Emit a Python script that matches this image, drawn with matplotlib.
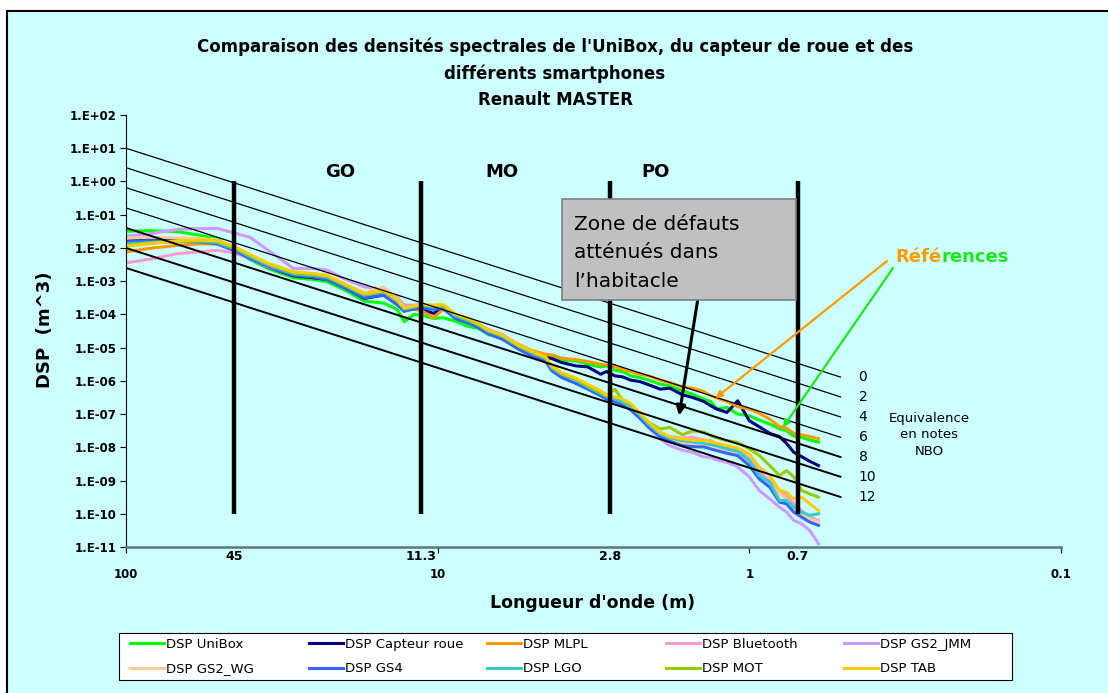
import matplotlib
matplotlib.use("Agg")
import matplotlib.pyplot as plt
import matplotlib.patches as patches
from matplotlib.ticker import FixedLocator, FuncFormatter, NullLocator
from matplotlib.transforms import blended_transform_factory
import numpy as np

W, H, DPI = 1108, 693, 100

# wavelength (m) shared by every series
lam = [100, 85, 68, 58, 51, 45, 40, 35, 29, 25, 22.6, 20, 17.2, 14.9, 13.5,
       12.8, 11.9, 11.3, 10.3, 9.6, 8.8, 8.0, 7.4, 6.9, 6.2, 5.5, 5.0, 4.5, 4.3, 4.0,
       3.6, 3.3, 3.0, 2.87, 2.7, 2.55, 2.4, 2.25, 2.1, 1.93, 1.8, 1.64, 1.52, 1.40, 1.33,
       1.27, 1.18, 1.09, 1.0, 0.93, 0.86, 0.80, 0.76, 0.72, 0.68, 0.64, 0.60]

# log10 of the DSP
log_unibox = [-1.50, -1.48, -1.51, -1.62, -1.72, -2.05, -2.35, -2.62, -2.90, -2.95,
              -3.02, -3.25, -3.60, -3.66, -3.85, -4.22, -4.00, -4.02, -4.12, -4.10,
              -4.20, -4.36, -4.42, -4.60, -4.72, -4.98, -5.10, -5.24, -5.30, -5.38,
              -5.40, -5.50, -5.58, -5.55, -5.68, -5.72, -5.85, -5.90, -5.98, -6.10,
              -6.15, -6.30, -6.40, -6.55, -6.62, -6.85, -6.80, -7.00, -7.05, -7.18,
              -7.30, -7.44, -7.50, -7.66, -7.70, -7.78, -7.84]
log_capteur = [-1.76, -1.72, -1.75, -1.80, -1.86, -2.06, -2.30, -2.58, -2.84, -2.90,
               -2.95, -3.18, -3.52, -3.42, -3.70, -3.90, -3.78, -3.85, -3.97, -3.78,
               -4.10, -4.25, -4.36, -4.55, -4.70, -4.98, -5.15, -5.30, -5.33, -5.45,
               -5.55, -5.58, -5.80, -5.72, -5.85, -5.88, -5.98, -6.02, -6.12, -6.25,
               -6.22, -6.42, -6.50, -6.62, -6.75, -6.85, -6.95, -6.60, -7.20, -7.38,
               -7.58, -7.68, -7.88, -8.15, -8.28, -8.42, -8.55]
log_mlpl = [-2.12, -2.02, -1.92, -1.88, -1.88, -2.03, -2.25, -2.52, -2.80, -2.86,
            -2.92, -3.15, -3.47, -3.40, -3.66, -3.85, -3.85, -3.88, -4.10, -3.85,
            -4.08, -4.20, -4.32, -4.50, -4.64, -4.90, -5.08, -5.20, -5.22, -5.32,
            -5.36, -5.42, -5.50, -5.52, -5.58, -5.65, -5.72, -5.80, -5.85, -5.98,
            -6.05, -6.18, -6.22, -6.32, -6.45, -6.52, -6.62, -6.78, -6.85, -6.98,
            -7.15, -7.38, -7.42, -7.58, -7.62, -7.68, -7.74]
log_bluetooth = [-2.45, -2.35, -2.17, -2.12, -2.07, -2.15, -2.32, -2.58, -2.80, -2.86,
                 -2.92, -3.15, -3.45, -3.35, -3.62, -3.85, -3.80, -3.76, -3.80, -3.80,
                 -4.05, -4.18, -4.34, -4.50, -4.68, -4.98, -5.15, -5.35, -5.62, -5.80,
                 -6.00, -6.20, -6.38, -6.50, -6.55, -6.65, -6.78, -7.00, -7.28, -7.55,
                 -7.68, -7.72, -7.70, -7.78, -7.80, -7.90, -7.98, -8.05, -8.35, -8.75,
                 -9.00, -9.30, -9.45, -9.70, -9.90, -10.10, -10.20]
log_gs2_jmm = [-1.65, -1.58, -1.44, -1.42, -1.41, -1.55, -1.68, -2.07, -2.62, -2.62,
               -2.67, -2.92, -3.17, -3.25, -3.48, -3.72, -3.72, -3.72, -3.76, -3.74,
               -4.00, -4.15, -4.28, -4.45, -4.60, -4.92, -5.12, -5.35, -5.65, -5.85,
               -6.05, -6.22, -6.42, -6.55, -6.60, -6.70, -6.82, -7.10, -7.42, -7.75,
               -7.95, -8.09, -8.15, -8.29, -8.30, -8.38, -8.45, -8.59, -8.89, -9.30,
               -9.55, -9.80, -9.95, -10.20, -10.30, -10.50, -10.90]
log_gs2_wg = [-1.71, -1.68, -1.70, -1.72, -1.76, -1.98, -2.22, -2.48, -2.74, -2.80,
              -2.86, -3.08, -3.35, -3.17, -3.52, -3.80, -3.78, -3.74, -3.76, -3.78,
              -4.05, -4.18, -4.33, -4.52, -4.70, -5.00, -5.18, -5.38, -5.68, -5.88,
              -6.05, -6.22, -6.45, -6.55, -6.62, -6.68, -6.85, -7.10, -7.38, -7.65,
              -7.78, -7.88, -7.90, -7.92, -7.98, -8.02, -8.10, -8.18, -8.48, -8.90,
              -9.10, -9.40, -9.55, -9.85, -10.00, -10.15, -10.25]
log_gs4 = [-1.82, -1.78, -1.80, -1.82, -1.88, -2.08, -2.32, -2.56, -2.82, -2.88,
           -2.95, -3.20, -3.50, -3.42, -3.70, -3.90, -3.84, -3.80, -3.85, -3.82,
           -4.12, -4.25, -4.40, -4.58, -4.75, -5.05, -5.25, -5.42, -5.70, -5.90,
           -6.08, -6.25, -6.45, -6.55, -6.62, -6.72, -6.88, -7.12, -7.40, -7.68,
           -7.82, -7.95, -7.98, -7.99, -8.05, -8.10, -8.18, -8.25, -8.55, -8.95,
           -9.20, -9.65, -9.70, -9.95, -10.10, -10.25, -10.35]
log_lgo = [-1.88, -1.84, -1.80, -1.80, -1.84, -2.02, -2.26, -2.52, -2.78, -2.83,
           -2.88, -3.12, -3.42, -3.32, -3.60, -3.84, -3.78, -3.72, -3.78, -3.76,
           -4.04, -4.18, -4.32, -4.50, -4.66, -4.96, -5.14, -5.32, -5.62, -5.80,
           -5.98, -6.18, -6.38, -6.48, -6.55, -6.64, -6.78, -7.02, -7.32, -7.60,
           -7.72, -7.80, -7.84, -7.88, -7.92, -7.96, -8.05, -8.12, -8.40, -8.85,
           -9.05, -9.60, -9.60, -9.80, -9.95, -10.05, -10.00]
log_mot = [-1.92, -1.86, -1.80, -1.78, -1.80, -1.98, -2.22, -2.48, -2.75, -2.80,
           -2.86, -3.10, -3.40, -3.30, -3.58, -3.82, -3.76, -3.72, -3.75, -3.72,
           -4.00, -4.15, -4.30, -4.48, -4.64, -4.95, -5.12, -5.30, -5.58, -5.78,
           -5.95, -6.15, -6.35, -6.45, -6.25, -6.58, -6.70, -6.98, -7.25, -7.45,
           -7.40, -7.62, -7.51, -7.54, -7.65, -7.72, -7.80, -7.85, -8.05, -8.24,
           -8.55, -8.85, -8.70, -8.89, -9.30, -9.40, -9.50]
log_tab = [-1.95, -1.88, -1.78, -1.76, -1.78, -1.95, -2.20, -2.46, -2.72, -2.77,
           -2.83, -3.07, -3.37, -3.28, -3.55, -3.80, -3.74, -3.70, -3.72, -3.70,
           -3.98, -4.12, -4.28, -4.46, -4.62, -4.92, -5.10, -5.28, -5.55, -5.75,
           -5.92, -6.10, -6.30, -6.42, -6.48, -6.55, -6.68, -6.95, -7.25, -7.55,
           -7.68, -7.75, -7.78, -7.80, -7.82, -7.88, -7.95, -8.02, -8.20, -8.59,
           -8.85, -9.30, -9.35, -9.55, -9.50, -9.70, -9.90]

series_names = ["DSP UniBox", "DSP Capteur roue", "DSP MLPL", "DSP Bluetooth", "DSP GS2_JMM",
                "DSP GS2_WG", "DSP GS4", "DSP LGO", "DSP MOT", "DSP TAB"]
series_logs = [log_unibox, log_capteur, log_mlpl, log_bluetooth, log_gs2_jmm,
               log_gs2_wg, log_gs4, log_lgo, log_mot, log_tab]
series_colors = ["#00FF00", "#000080", "#FF9900", "#FF99CC", "#CC99FF",
                 "#FFCC99", "#3366FF", "#33CCCC", "#99CC00", "#FFCC00"]

# NBO reference lines (note, DSP at 100 m, DSP at the end)
nbo_notes = ["0", "2", "4", "6", "8", "10", "12"]
nbo_lam = [100, 0.51]
nbo_start = [1.0e1, 2.6e0, 6.5e-1, 1.6e-1, 4.0e-2, 1.0e-2, 2.5e-3]
nbo_end = [1.3e-6, 3.3e-7, 8.2e-8, 2.0e-8, 5.1e-9, 1.3e-9, 3.2e-10]

band_limits = [45, 11.3, 2.8, 0.7]
band_labels = ["45", "11.3", "2.8", "0.7"]
band_names = ["GO", "MO", "PO"]
band_name_lam = [20.5, 6.2, 2.0]

x_ticks = [100, 10, 1, 0.1]
x_ticklabels = ["100", "10", "1", "0.1"]

title_lines = ["Comparaison des densités spectrales de l'UniBox, du capteur de roue et des",
               "différents smartphones", "Renault MASTER"]


def fpx(x, y):
    # pixel position measured from the top-left corner -> figure fraction
    return x / W, 1 - y / H


fig = plt.figure(figsize=(W / DPI, H / DPI), dpi=DPI, facecolor="white")
fig.add_artist(patches.Rectangle((7 / W, -0.05), 1.1, 1.05 - 11 / H, transform=fig.transFigure,
                                 facecolor="#CCFFFF", edgecolor="black", lw=1.5, zorder=-1))

ax = fig.add_axes([126 / W, 1 - 547 / H, 935 / W, 432 / H])
ax.set_facecolor("none")

handles = []
for name, logs, color in zip(series_names, series_logs, series_colors):
    h, = ax.plot(lam, 10.0 ** np.array(logs), color=color, lw=2.2, label=name,
                 solid_joinstyle="round", zorder=2)
    handles.append(h)

for i, (s, e) in enumerate(zip(nbo_start, nbo_end)):
    ax.plot(nbo_lam, [s, e], color="black", lw=0.9 if i < 4 else 1.4, zorder=3)
    ax.annotate(nbo_notes[i], xy=(nbo_lam[1], e), xytext=(13, 0), textcoords="offset points",
                va="center", ha="left", fontsize=10, annotation_clip=False)

ax.vlines(band_limits, 1e-10, 1e0, colors="black", lw=3.2, zorder=4)

ax.set_xscale("log")
ax.set_yscale("log")
ax.set_xlim(100, 0.1)
ax.set_ylim(1e-11, 1e2)

ax.yaxis.set_major_locator(FixedLocator(10.0 ** np.arange(-11, 3)))
ax.yaxis.set_major_formatter(FuncFormatter(lambda v, p: "1.E%+03d" % round(np.log10(v))))
ax.yaxis.set_minor_locator(NullLocator())
ax.set_xticks(x_ticks)
ax.set_xticklabels(x_ticklabels)
ax.xaxis.set_minor_locator(NullLocator())
ax.tick_params(axis="y", length=4, width=0.8, pad=3, labelsize=8.5)
ax.tick_params(axis="x", length=4, width=0.8, pad=11, labelsize=8.5, color="black")
plt.setp(ax.get_yticklabels(), fontweight="bold")
plt.setp(ax.get_xticklabels(), fontweight="bold")

for side in ["top", "right"]:
    ax.spines[side].set_visible(False)
ax.spines["left"].set_linewidth(0.8)
ax.spines["bottom"].set_color("#5f7676")
ax.spines["bottom"].set_linewidth(1.8)

trans = blended_transform_factory(ax.transData, ax.transAxes)
for b, lbl in zip(band_limits, band_labels):
    ax.text(b, -0.023, lbl, transform=trans, ha="center", va="center", fontsize=9, fontweight="bold")
for x, name in zip(band_name_lam, band_names):
    ax.text(x, 1.95, name, ha="center", va="center", fontsize=13, fontweight="bold")

# title and axis labels
for y, line in zip([47, 74, 100], title_lines):
    fig.text(*fpx(555, y), line, ha="center", va="center", fontsize=12, fontweight="bold")
fig.text(*fpx(45, 330), "DSP  (m^3)", rotation=90, ha="center", va="center",
         fontsize=13, fontweight="bold")
fig.text(*fpx(593, 603), "Longueur d'onde (m)", ha="center", va="center",
         fontsize=12.5, fontweight="bold")

fig.text(*fpx(929, 435), "Equivalence\nen notes\nNBO", ha="center", va="center",
         fontsize=9.5, linespacing=1.35)

# grey callout box
fig.add_artist(patches.Rectangle(fpx(562, 300), 234 / W, 101 / H, transform=fig.transFigure,
                                 facecolor="#C0C0C0", edgecolor="#7f7f7f", lw=1.2, zorder=5))
for y, line in zip([230, 258.5, 287], ["Zone de défauts", "atténués dans", "l\u2019habitacle"]):
    fig.text(*fpx(574, y), line, ha="left", va="baseline", fontsize=14.5, zorder=6)

ax.annotate("", xy=(1.68, 9e-8), xycoords="data", xytext=fpx(698, 298), textcoords="figure fraction",
            arrowprops=dict(arrowstyle="-|>", color="black", lw=2.2, mutation_scale=14,
                            shrinkA=0, shrinkB=0), zorder=6)
ax.annotate("", xy=(1.285, 3e-7), xycoords="data", xytext=fpx(887, 261), textcoords="figure fraction",
            arrowprops=dict(arrowstyle="-|>", color="#FF9900", lw=1.6, mutation_scale=10,
                            shrinkA=0, shrinkB=0), zorder=6)
ax.annotate("", xy=(0.78, 4e-8), xycoords="data", xytext=fpx(893, 268), textcoords="figure fraction",
            arrowprops=dict(arrowstyle="-|>", color="#1EE61E", lw=1.6, mutation_scale=10,
                            shrinkA=0, shrinkB=0), zorder=6)

t1 = fig.text(*fpx(895, 257), "Réfé", color="#FF9900", fontsize=13, fontweight="bold", va="center")
ax.annotate("rences", xy=(1, 0), xycoords=t1, va="bottom", ha="left", color="#1EE61E",
            fontsize=13, fontweight="bold", annotation_clip=False)

# legend: white frame + one small legend per column so the pitch is even
fig.add_artist(patches.Rectangle(fpx(119, 680), 893 / W, 47 / H, transform=fig.transFigure,
                                 facecolor="white", edgecolor="black", lw=0.8, zorder=4))
col_x = [130, 308.5, 487, 666, 844]
for c, x in enumerate(col_x):
    fig.legend([handles[c], handles[c + 5]], [series_names[c], series_names[c + 5]],
               loc="upper left", bbox_to_anchor=fpx(x, 638), frameon=False, fontsize=9.5,
               handlelength=2.58, handletextpad=0.15, borderpad=0, borderaxespad=0,
               labelspacing=0.85)

fig.savefig("out.png", dpi=DPI, facecolor="white")
